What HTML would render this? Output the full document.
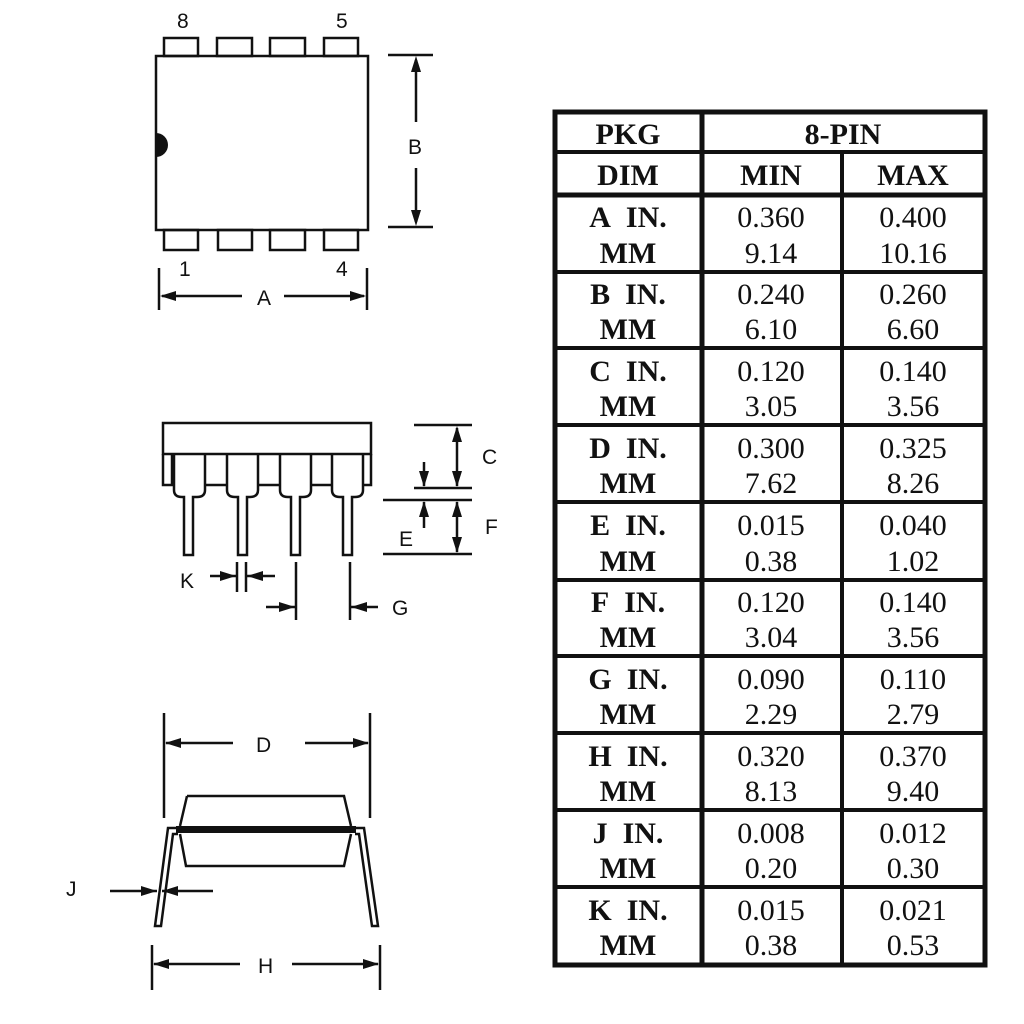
<!DOCTYPE html>
<html><head><meta charset="utf-8"><style>
html,body{margin:0;padding:0;background:#fff;}
svg{display:block;}
.l{font-family:"Liberation Sans",Arial,sans-serif;font-size:21px;fill:#111;}
.t{font-family:"Liberation Serif","Times New Roman",serif;font-size:30px;fill:#111;}
</style></head><body>
<svg width="1024" height="1024" viewBox="0 0 1024 1024" xmlns="http://www.w3.org/2000/svg">
<g stroke="#111" stroke-width="2.5" fill="none">
<rect x="156" y="56" width="212" height="174"/>
<rect x="164" y="38" width="34" height="18"/>
<rect x="217" y="38" width="35" height="18"/>
<rect x="270" y="38" width="35" height="18"/>
<rect x="324" y="38" width="34" height="18"/>
<rect x="164" y="230" width="34" height="20"/>
<rect x="218" y="230" width="34" height="20"/>
<rect x="270" y="230" width="35" height="20"/>
<rect x="324" y="230" width="34" height="20"/>
<line x1="388" y1="55" x2="433" y2="55"/>
<line x1="388" y1="227" x2="433" y2="227"/>
<line x1="416" y1="60" x2="416" y2="122"/>
<line x1="416" y1="168" x2="416" y2="222"/>
<line x1="159" y1="268" x2="159" y2="310"/>
<line x1="367" y1="268" x2="367" y2="310"/>
<line x1="162" y1="296" x2="242" y2="296"/>
<line x1="284" y1="296" x2="364" y2="296"/>
<rect x="163" y="423" width="208" height="31"/>
<path d="M163 454 V485 H172 V454"/>
<path d="M371 454 V485 H363"/>
<path d="M174 454 V490 Q174 497 182 497 H184 V555 H193 V497 H197 Q205 497 205 490 V454"/>
<path d="M227 454 V490 Q227 497 235 497 H238 V555 H247 V497 H250 Q258 497 258 490 V454"/>
<path d="M280 454 V490 Q280 497 288 497 H291 V555 H300 V497 H303 Q311 497 311 490 V454"/>
<path d="M332 454 V490 Q332 497 340 497 H343 V555 H352 V497 H355 Q363 497 363 490 V454"/>
<line x1="205" y1="485" x2="227" y2="485"/>
<line x1="258" y1="485" x2="280" y2="485"/>
<line x1="311" y1="485" x2="332" y2="485"/>
<line x1="414" y1="425" x2="472" y2="425"/>
<line x1="414" y1="488" x2="472" y2="488"/>
<line x1="383" y1="500" x2="472" y2="500"/>
<line x1="383" y1="554" x2="472" y2="554"/>
<line x1="457" y1="428" x2="457" y2="486"/>
<line x1="457" y1="502" x2="457" y2="552"/>
<line x1="424" y1="462" x2="424" y2="486"/>
<line x1="424" y1="502" x2="424" y2="528"/>
<line x1="237" y1="562" x2="237" y2="592"/>
<line x1="246" y1="562" x2="246" y2="592"/>
<line x1="210" y1="576" x2="236" y2="576"/>
<line x1="247" y1="576" x2="275" y2="576"/>
<line x1="296" y1="562" x2="296" y2="620"/>
<line x1="350" y1="562" x2="350" y2="620"/>
<line x1="266" y1="607" x2="295" y2="607"/>
<line x1="351" y1="607" x2="378" y2="607"/>
<line x1="164" y1="713" x2="164" y2="818"/>
<line x1="370" y1="713" x2="370" y2="818"/>
<line x1="166" y1="743" x2="233" y2="743"/>
<line x1="305" y1="743" x2="368" y2="743"/>
<path d="M187 796 H344 L351 826 M187 796 L180 826"/>
<path d="M180 834 L186 866 H344 L351 834"/>
<path d="M178 828 H168 L155 926 H161 L173 834 H178"/>
<path d="M355 828 H364 L378 926 H372 L359 834 H355"/>
<line x1="110" y1="891" x2="157" y2="891"/>
<line x1="162" y1="891" x2="213" y2="891"/>
<line x1="152" y1="945" x2="152" y2="990"/>
<line x1="380" y1="945" x2="380" y2="990"/>
<line x1="154" y1="964" x2="240" y2="964"/>
<line x1="292" y1="964" x2="378" y2="964"/>
</g>
<rect x="176" y="826" width="180" height="7" fill="#111"/>
<path d="M156 133 A12 12 0 0 1 156 157 Z" fill="#111"/>
<g fill="#111">
<polygon points="416,56 411,72 421,72"/>
<polygon points="416,226 411,210 421,210"/>
<polygon points="160,296 176,291 176,301"/>
<polygon points="366,296 350,291 350,301"/>
<polygon points="457,426 452,442 462,442"/>
<polygon points="457,487 452,471 462,471"/>
<polygon points="424,487 419,471 429,471"/>
<polygon points="424,501 419,517 429,517"/>
<polygon points="457,501 452,517 462,517"/>
<polygon points="457,553 452,537 462,537"/>
<polygon points="236,576 220,571 220,581"/>
<polygon points="247,576 263,571 263,581"/>
<polygon points="295,607 279,602 279,612"/>
<polygon points="351,607 367,602 367,612"/>
<polygon points="165,743 181,738 181,748"/>
<polygon points="369,743 353,738 353,748"/>
<polygon points="157,891 141,886 141,896"/>
<polygon points="162,891 178,886 178,896"/>
<polygon points="153,964 169,959 169,969"/>
<polygon points="379,964 363,959 363,969"/>
</g>
<g class="l">
<text x="177" y="28">8</text><text x="336" y="28">5</text>
<text x="179" y="276">1</text><text x="336" y="276">4</text>
<text x="408" y="154">B</text><text x="257" y="305">A</text>
<text x="482" y="464">C</text><text x="485" y="534">F</text><text x="399" y="546">E</text>
<text x="180" y="588">K</text><text x="392" y="615">G</text>
<text x="256" y="752">D</text><text x="66" y="896">J</text><text x="258" y="973">H</text>
</g>
<g stroke="#111" fill="none">
<rect x="555" y="112" width="430" height="853" stroke-width="5"/>
<line x1="702" y1="112" x2="702" y2="965" stroke-width="5"/>
<line x1="842" y1="152" x2="842" y2="965" stroke-width="4"/>
<line x1="555" y1="152" x2="985" y2="152" stroke-width="4"/>
<line x1="555" y1="195" x2="985" y2="195" stroke-width="5"/>
<line x1="555" y1="272" x2="985" y2="272" stroke-width="4"/>
<line x1="555" y1="348" x2="985" y2="348" stroke-width="4"/>
<line x1="555" y1="425" x2="985" y2="425" stroke-width="4"/>
<line x1="555" y1="502" x2="985" y2="502" stroke-width="4"/>
<line x1="555" y1="580" x2="985" y2="580" stroke-width="4"/>
<line x1="555" y1="656" x2="985" y2="656" stroke-width="4"/>
<line x1="555" y1="733" x2="985" y2="733" stroke-width="4"/>
<line x1="555" y1="810" x2="985" y2="810" stroke-width="4"/>
<line x1="555" y1="887" x2="985" y2="887" stroke-width="4"/>
</g>
<g class="t" text-anchor="middle" font-weight="bold">
<text x="628" y="144">PKG</text>
<text x="843" y="144">8-PIN</text>
<text x="628" y="185">DIM</text>
<text x="771" y="185">MIN</text>
<text x="913" y="185">MAX</text>
</g>
<g class="t" text-anchor="middle">
<g font-weight="bold">
<text x="628" y="227">A&#160; IN.</text><text x="628" y="263">MM</text>
<text x="628" y="304">B&#160; IN.</text><text x="628" y="339">MM</text>
<text x="628" y="381">C&#160; IN.</text><text x="628" y="416">MM</text>
<text x="628" y="458">D&#160; IN.</text><text x="628" y="493">MM</text>
<text x="628" y="535">E&#160; IN.</text><text x="628" y="571">MM</text>
<text x="628" y="612">F&#160; IN.</text><text x="628" y="647">MM</text>
<text x="628" y="689">G&#160; IN.</text><text x="628" y="724">MM</text>
<text x="628" y="766">H&#160; IN.</text><text x="628" y="801">MM</text>
<text x="628" y="843">J&#160; IN.</text><text x="628" y="878">MM</text>
<text x="628" y="920">K&#160; IN.</text><text x="628" y="955">MM</text>
</g>
<text x="771" y="227">0.360</text><text x="771" y="263">9.14</text>
<text x="913" y="227">0.400</text><text x="913" y="263">10.16</text>
<text x="771" y="304">0.240</text><text x="771" y="339">6.10</text>
<text x="913" y="304">0.260</text><text x="913" y="339">6.60</text>
<text x="771" y="381">0.120</text><text x="771" y="416">3.05</text>
<text x="913" y="381">0.140</text><text x="913" y="416">3.56</text>
<text x="771" y="458">0.300</text><text x="771" y="493">7.62</text>
<text x="913" y="458">0.325</text><text x="913" y="493">8.26</text>
<text x="771" y="535">0.015</text><text x="771" y="571">0.38</text>
<text x="913" y="535">0.040</text><text x="913" y="571">1.02</text>
<text x="771" y="612">0.120</text><text x="771" y="647">3.04</text>
<text x="913" y="612">0.140</text><text x="913" y="647">3.56</text>
<text x="771" y="689">0.090</text><text x="771" y="724">2.29</text>
<text x="913" y="689">0.110</text><text x="913" y="724">2.79</text>
<text x="771" y="766">0.320</text><text x="771" y="801">8.13</text>
<text x="913" y="766">0.370</text><text x="913" y="801">9.40</text>
<text x="771" y="843">0.008</text><text x="771" y="878">0.20</text>
<text x="913" y="843">0.012</text><text x="913" y="878">0.30</text>
<text x="771" y="920">0.015</text><text x="771" y="955">0.38</text>
<text x="913" y="920">0.021</text><text x="913" y="955">0.53</text>
</g>
</svg>
</body></html>
